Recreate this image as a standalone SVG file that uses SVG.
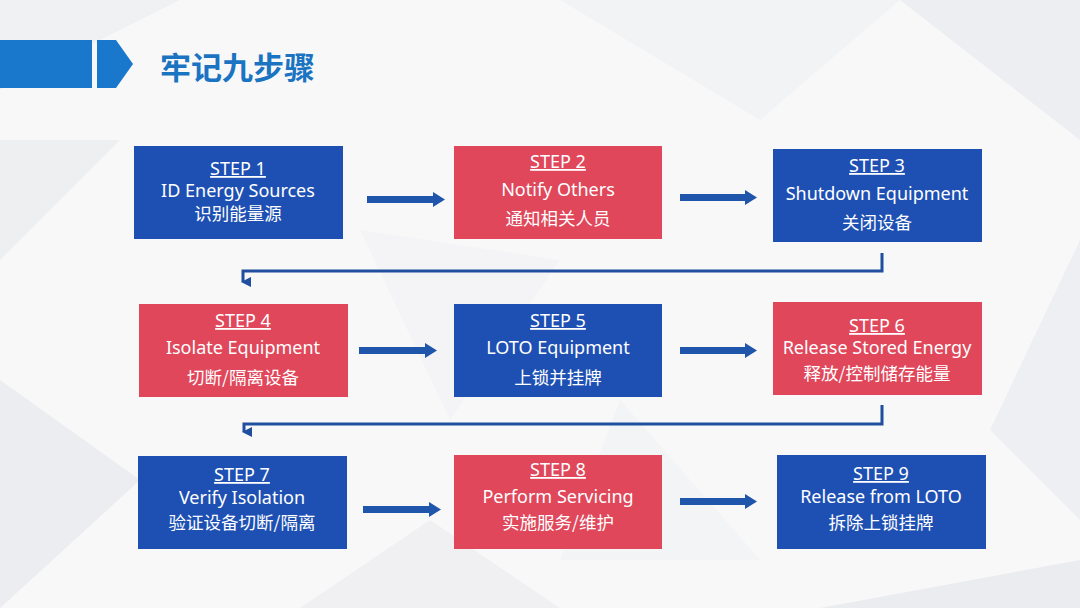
<svg xmlns="http://www.w3.org/2000/svg" width="1080" height="608" viewBox="0 0 1080 608">
<style>
.blue{fill:#1e50b3}
.red{fill:#e0475b}
.t{font-family:"Noto Sans","Noto Sans CJK SC",sans-serif;fill:#ffffff;text-anchor:middle;font-size:18px}
.s{text-decoration:underline}
.c{font-family:"Noto Sans CJK SC",sans-serif;font-size:17.5px}
.arr{fill:#1f55aa}
.ln{fill:none;stroke:#1f4f9e;stroke-width:3}
.bg{stroke:none}
</style>
<defs>
<marker id="ah" markerWidth="10" markerHeight="10" refX="5" refY="8" orient="auto" markerUnits="userSpaceOnUse" viewBox="0 0 10 10">
<path d="M0,0 L10,0 L5,10 Z" fill="#1f4f9e"/>
</marker>
</defs>
<rect width="1080" height="608" fill="#f8f8f9"/>
<g id="background" class="bg">
<polygon points="0,90 180,0 0,0" fill="#f0f1f3"/>
<polygon points="0,260 120,140 0,140" fill="#eeeff1"/>
<polygon points="0,608 140,480 0,380" fill="#ecedf0"/>
<polygon points="300,608 430,520 560,608" fill="#f0f0f3"/>
<polygon points="560,0 760,120 900,0" fill="#f2f3f5"/>
<polygon points="900,0 1080,0 1080,140" fill="#edeef1"/>
<polygon points="1080,240 990,430 1080,520" fill="#eeeff2"/>
<polygon points="820,608 1080,560 1080,608" fill="#ebecef"/>
<polygon points="360,230 560,260 450,420" fill="#f4f4f6"/>
<polygon points="620,400 760,560 560,560" fill="#f3f4f6"/>
</g>
<g id="title">
<rect x="0" y="40" width="92" height="48" fill="#1a78cc"/>
<polygon points="97,40 116,40 133,64 116,88 97,88" fill="#1a78cc"/>
<text x="160" y="79" font-family="Noto Sans CJK SC,sans-serif" font-weight="bold" font-size="31" fill="#1b74c2">牢记九步骤</text>
</g>
<g id="connectors">
<polygon class="arr" points="367,196 433,196 433,192 445,199.5 433,207 433,203 367,203"/>
<polygon class="arr" points="680,194 745,194 745,190 757,197.5 745,205 745,201 680,201"/>
<polygon class="arr" points="359,347 425,347 425,343 437,350.5 425,358 425,354 359,354"/>
<polygon class="arr" points="680,347 745,347 745,343 757,350.5 745,358 745,354 680,354"/>
<polygon class="arr" points="363,506 429,506 429,502 441,509.5 429,517 429,513 363,513"/>
<polygon class="arr" points="680,498 745,498 745,494 757,501.5 745,509 745,505 680,505"/>
<polyline class="ln" points="882,253 882,271 243,271 243,282" marker-end="url(#ah)"/>
<polyline class="ln" points="882,405 882,424 244,424 244,432" marker-end="url(#ah)"/>
</g>
<g id="step1">
<rect class="blue" x="134" y="146" width="209" height="93"/>
<text class="t s" x="238" y="175">STEP 1</text>
<text class="t" x="238" y="197">ID Energy Sources</text>
<text class="t c" x="238" y="220">识别能量源</text>
</g>
<g id="step2">
<rect class="red" x="454" y="146" width="208" height="93"/>
<text class="t s" x="558" y="168">STEP 2</text>
<text class="t" x="558" y="196">Notify Others</text>
<text class="t c" x="558" y="225">通知相关人员</text>
</g>
<g id="step3">
<rect class="blue" x="773" y="149" width="209" height="93"/>
<text class="t s" x="877" y="172">STEP 3</text>
<text class="t" x="877" y="200">Shutdown Equipment</text>
<text class="t c" x="877" y="229">关闭设备</text>
</g>
<g id="step4">
<rect class="red" x="139" y="304" width="209" height="93"/>
<text class="t s" x="243" y="327">STEP 4</text>
<text class="t" x="243" y="354">Isolate Equipment</text>
<text class="t c" x="243" y="384">切断/隔离设备</text>
</g>
<g id="step5">
<rect class="blue" x="454" y="304" width="208" height="93"/>
<text class="t s" x="558" y="327">STEP 5</text>
<text class="t" x="558" y="354">LOTO Equipment</text>
<text class="t c" x="558" y="384">上锁并挂牌</text>
</g>
<g id="step6">
<rect class="red" x="773" y="302" width="209" height="93"/>
<text class="t s" x="877" y="332">STEP 6</text>
<text class="t" x="877" y="354">Release Stored Energy</text>
<text class="t c" x="877" y="380">释放/控制储存能量</text>
</g>
<g id="step7">
<rect class="blue" x="138" y="456" width="209" height="93"/>
<text class="t s" x="242" y="481">STEP 7</text>
<text class="t" x="242" y="504">Verify Isolation</text>
<text class="t c" x="242" y="529">验证设备切断/隔离</text>
</g>
<g id="step8">
<rect class="red" x="454" y="455" width="208" height="94"/>
<text class="t s" x="558" y="476">STEP 8</text>
<text class="t" x="558" y="503">Perform Servicing</text>
<text class="t c" x="558" y="529">实施服务/维护</text>
</g>
<g id="step9">
<rect class="blue" x="777" y="455" width="209" height="94"/>
<text class="t s" x="881" y="480">STEP 9</text>
<text class="t" x="881" y="503">Release from LOTO</text>
<text class="t c" x="881" y="529">拆除上锁挂牌</text>
</g>
</svg>
